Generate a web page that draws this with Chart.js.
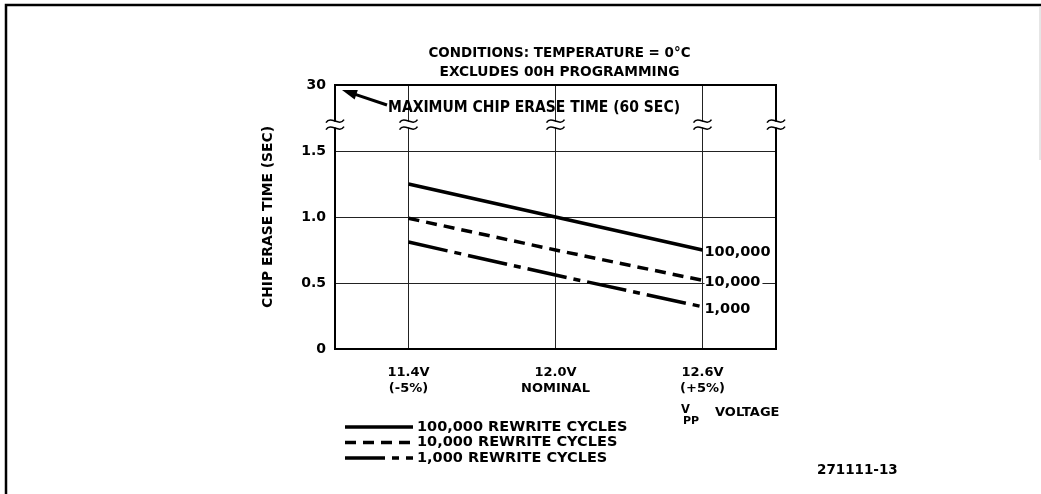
<!DOCTYPE html>
<html>
<head>
<meta charset="utf-8">
<script src="https://cdn.jsdelivr.net/npm/chart.js@4.4.0/dist/chart.umd.min.js"></script>
<style>
  html, body { margin: 0; padding: 0; background: #fff; }
  canvas { display: block; }
</style>
</head>
<body>
<canvas id="grafico-borrado" width="1041" height="494"></canvas>
<script>
// --- DATOS DEL GRÁFICO ---
const voltajes = [11.4, 12.0, 12.6];
const etiquetasX = [["11.4V", "(-5%)"], ["12.0V", "NOMINAL"], ["12.6V", "(+5%)"]];
const ticksY = [0, 0.5, 1.0, 1.5, 2.0];
const etiquetasY = ["0", "0.5", "1.0", "1.5", "30"];
const ciclos100k = [1.25, 1.0, 0.75];
const ciclos10k = [0.99, 0.75, 0.52];
const ciclos1k = [0.81, 0.56, 0.32];
const nombresSerie = ["100,000 REWRITE CYCLES", "10,000 REWRITE CYCLES", "1,000 REWRITE CYCLES"];
const etiquetasFin = ["100,000", "10,000", "1,000"];
const titulo = ["CONDITIONS: TEMPERATURE = 0°C", "EXCLUDES 00H PROGRAMMING"];
const nota = "MAXIMUM CHIP ERASE TIME (60 SEC)";
const tituloY = "CHIP ERASE TIME (SEC)";
const corteY = 1.7; // altura del corte del eje (30 s arriba)

const FUENTE = "'DejaVu Sans', sans-serif";

function puntos(valores) {
  return voltajes.map((v, i) => ({ x: v, y: valores[i] }));
}

function texto(ctx, s, x, y, size, align, maxW) {
  ctx.font = `bold ${size}px ${FUENTE}`;
  ctx.textAlign = align || "left";
  ctx.textBaseline = "middle";
  ctx.fillStyle = "#000";
  if (maxW) ctx.fillText(s, x, y, maxW);
  else ctx.fillText(s, x, y);
}

// simbolo de corte (dos tildes) sobre una linea vertical
function corte(ctx, x, y) {
  ctx.fillStyle = "#fff";
  ctx.fillRect(x - 3, y - 3, 6, 6);
  ctx.strokeStyle = "#000";
  ctx.lineWidth = 1.6;
  [-3.5, 3.5].forEach(dy => {
    ctx.beginPath();
    ctx.moveTo(x - 9, y + dy + 1.5);
    ctx.bezierCurveTo(x - 4, y + dy - 6, x + 4, y + dy + 6, x + 9, y + dy - 1.5);
    ctx.stroke();
  });
}

const extras = {
  id: "extras",
  afterDraw(chart) {
    const ctx = chart.ctx;
    const a = chart.chartArea;
    const sx = chart.scales.x;
    const sy = chart.scales.y;
    ctx.save();

    // marco exterior
    ctx.strokeStyle = "#000";
    ctx.lineWidth = 2.5;
    ctx.beginPath();
    ctx.moveTo(6, 494);
    ctx.lineTo(6, 5);
    ctx.lineTo(1041, 5);
    ctx.stroke();
    ctx.strokeStyle = "#ccc";
    ctx.lineWidth = 1;
    ctx.beginPath();
    ctx.moveTo(1040, 6);
    ctx.lineTo(1040, 160);
    ctx.stroke();

    // borde superior y derecho del area
    ctx.strokeStyle = "#000";
    ctx.lineWidth = 2;
    ctx.beginPath();
    ctx.moveTo(a.left - 1, a.top);
    ctx.lineTo(a.right, a.top);
    ctx.lineTo(a.right, a.bottom);
    ctx.stroke();

    // cortes del eje
    const yc = sy.getPixelForValue(corteY);
    [a.left, ...voltajes.map(v => sx.getPixelForValue(v)), a.right].forEach(x => corte(ctx, x, yc));

    // titulo
    const cx = (a.left + a.right) / 2 + 4;
    texto(ctx, titulo[0], cx, 53, 14, "center", 262);
    texto(ctx, titulo[1], cx, 72, 14, "center", 240);

    // nota con flecha
    texto(ctx, nota, a.left + 53, a.top + 23, 15, "left", 292);
    const tipX = a.left + 7, tipY = a.top + 5;
    const colaX = a.left + 52, colaY = a.top + 20;
    const ang = Math.atan2(colaY - tipY, colaX - tipX);
    ctx.lineWidth = 3;
    ctx.beginPath();
    ctx.moveTo(colaX, colaY);
    ctx.lineTo(tipX + 10 * Math.cos(ang), tipY + 10 * Math.sin(ang));
    ctx.stroke();
    ctx.fillStyle = "#000";
    ctx.beginPath();
    ctx.moveTo(tipX, tipY);
    ctx.lineTo(tipX + 15 * Math.cos(ang) - 5 * Math.sin(ang), tipY + 15 * Math.sin(ang) + 5 * Math.cos(ang));
    ctx.lineTo(tipX + 15 * Math.cos(ang) + 5 * Math.sin(ang), tipY + 15 * Math.sin(ang) - 5 * Math.cos(ang));
    ctx.closePath();
    ctx.fill();

    // etiquetas al final de cada curva
    const xFin = sx.getPixelForValue(voltajes[voltajes.length - 1]);
    chart.data.datasets.forEach((ds, i) => {
      const yFin = sy.getPixelForValue(ds.data[ds.data.length - 1].y) + 2;
      ctx.font = `bold 14.5px ${FUENTE}`;
      const w = ctx.measureText(etiquetasFin[i]).width;
      ctx.fillStyle = "#fff";
      ctx.fillRect(xFin + 2, yFin - 7, w + 2, 14);
      texto(ctx, etiquetasFin[i], xFin + 2, yFin, 14.5, "left");
    });

    // titulo eje Y
    ctx.save();
    ctx.translate(268, (a.top + a.bottom) / 2 + 0);
    ctx.rotate(-Math.PI / 2);
    texto(ctx, tituloY, 0, 0, 14, "center", 182);
    ctx.restore();

    // titulo eje X: V_PP VOLTAGE
    texto(ctx, "V", 681, 410, 11.5, "left");
    texto(ctx, "PP", 683, 421, 11, "left");
    texto(ctx, "VOLTAGE", 715, 413, 13, "left", 68);

    // leyenda
    chart.data.datasets.forEach((ds, i) => {
      const y = 427 + i * 15.5;
      ctx.strokeStyle = "#000";
      ctx.lineWidth = ds.borderWidth;
      ctx.setLineDash(ds.borderDash || []);
      ctx.beginPath();
      ctx.moveTo(345, y);
      ctx.lineTo(413, y);
      ctx.stroke();
      ctx.setLineDash([]);
      texto(ctx, ds.label, 417, y, 14.5, "left");
    });

    // numero de figura
    texto(ctx, "271111-13", 817, 470, 13.5, "left");

    ctx.restore();
  }
};

new Chart(document.getElementById("grafico-borrado"), {
  type: "line",
  data: {
    datasets: [
      { label: nombresSerie[0], data: puntos(ciclos100k), borderColor: "#000", borderWidth: 3.5, pointRadius: 0, borderDash: [] },
      { label: nombresSerie[1], data: puntos(ciclos10k), borderColor: "#000", borderWidth: 3.5, pointRadius: 0, borderDash: [11, 7] },
      { label: nombresSerie[2], data: puntos(ciclos1k), borderColor: "#000", borderWidth: 3.5, pointRadius: 0, borderDash: [40, 7, 7, 7] },
    ],
  },
  options: {
    responsive: false,
    animation: false,
    layout: { padding: { top: 85, right: 265, left: 0, bottom: 0 } },
    plugins: { legend: { display: false }, tooltip: { enabled: false } },
    scales: {
      x: {
        type: "linear",
        min: 11.1,
        max: 12.9,
        afterBuildTicks: (scale) => { scale.ticks = voltajes.map(v => ({ value: v })); },
        afterFit: (scale) => { scale.height = 145; },
        ticks: {
          callback: (value, index) => etiquetasX[index],
          color: "#000",
          font: { family: FUENTE, size: 13, weight: "bold", lineHeight: 1.25 },
          padding: 15,
          maxRotation: 0,
          autoSkip: false,
        },
        grid: { color: "#222", lineWidth: 1, drawTicks: false },
        border: { color: "#000", width: 2 },
      },
      y: {
        min: 0,
        max: 2,
        afterBuildTicks: (scale) => { scale.ticks = ticksY.map(v => ({ value: v })); },
        afterFit: (scale) => { scale.width = 335; },
        ticks: {
          callback: (value) => etiquetasY[ticksY.indexOf(value)],
          color: "#000",
          font: { family: FUENTE, size: 14, weight: "bold" },
          padding: 9,
        },
        grid: { color: "#222", lineWidth: 1, drawTicks: false },
        border: { color: "#000", width: 2 },
      },
    },
  },
  plugins: [extras],
});
</script>
</body>
</html>
